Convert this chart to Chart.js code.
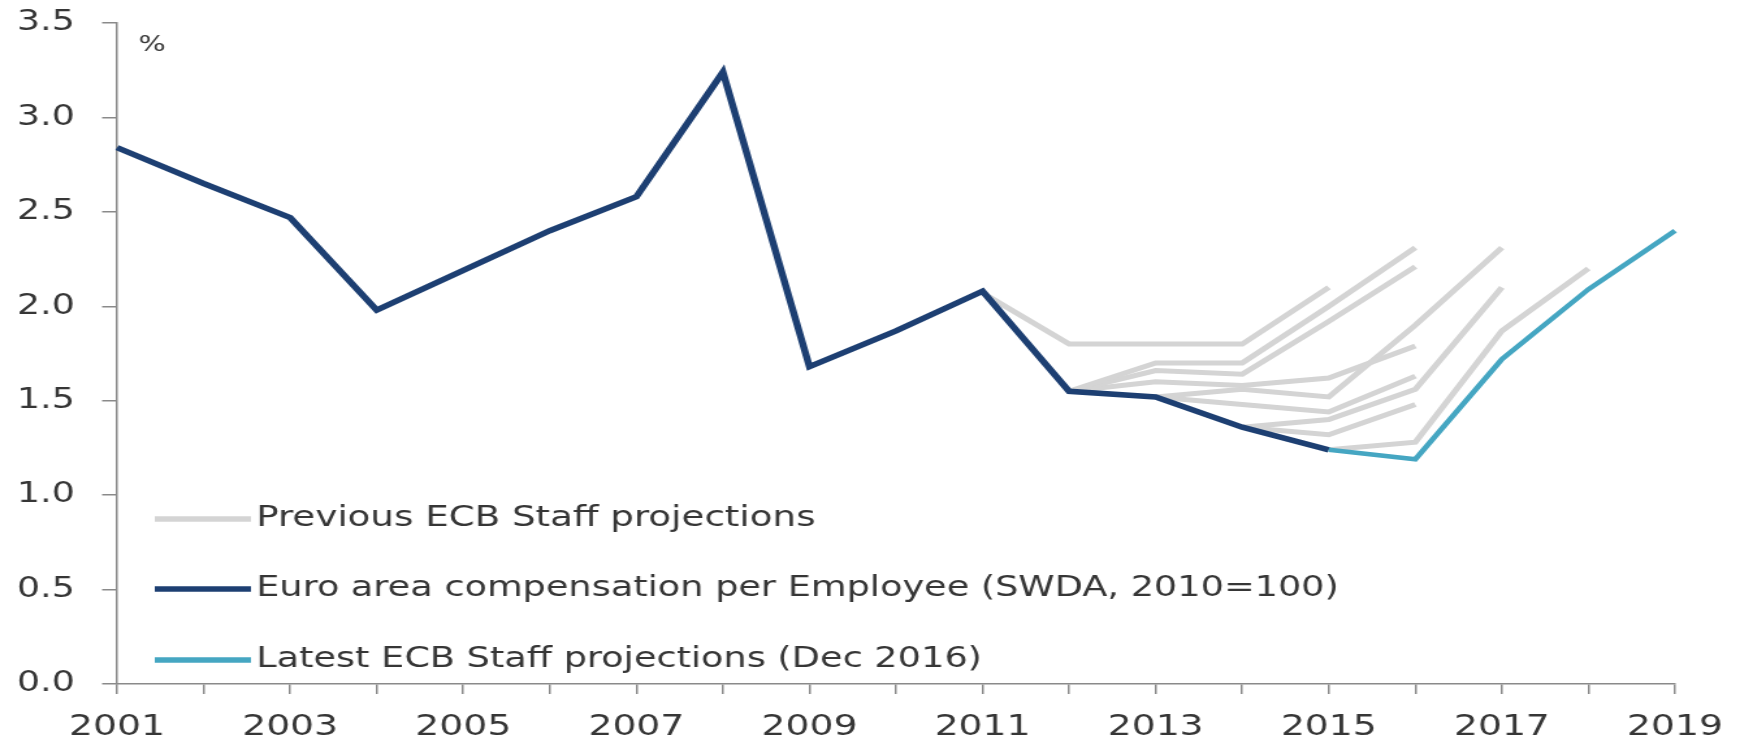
<!DOCTYPE html>
<html><head><meta charset="utf-8">
<script src="https://cdn.jsdelivr.net/npm/chart.js@4.4.1/dist/chart.umd.min.js"></script>
<style>
html,body{margin:0;padding:0;background:#fff;overflow:hidden;}
#wrap{width:1338px;height:742px;transform:scaleX(1.30045);transform-origin:0 0;}
</style></head><body>
<div id="wrap"><canvas id="c" width="1338" height="742"></canvas></div>
<script>
// ---- data ----
const years = ["2001","2002","2003","2004","2005","2006","2007","2008","2009","2010","2011","2012","2013","2014","2015","2016","2017","2018","2019"];
const yTickValues = [0, 0.5, 1, 1.5, 2, 2.5, 3, 3.5];
// Euro area compensation per employee, 2001-2015
const compensation = [2.84, 2.65, 2.47, 1.98, 2.19, 2.40, 2.58, 3.24, 1.68, 1.87, 2.08, 1.55, 1.52, 1.36, 1.24];
const compensationStart = "2001";
// Latest ECB Staff projections (Dec 2016), 2015-2019
const latest = [1.24, 1.19, 1.72, 2.09, 2.40];
const latestStart = "2015";
// Previous ECB Staff projections (each vintage: start year + values)
const prev1 = [2.07, 1.80, 1.80, 1.80, 2.10]; const prev1Start = "2011";
const prev2 = [1.55, 1.70, 1.70, 2.00, 2.31]; const prev2Start = "2012";
const prev3 = [1.55, 1.66, 1.64, 1.92, 2.21]; const prev3Start = "2012";
const prev4 = [1.55, 1.60, 1.58, 1.62, 1.79]; const prev4Start = "2012";
const prev5 = [1.52, 1.56, 1.52, 1.90, 2.31]; const prev5Start = "2013";
const prev6 = [1.52, 1.48, 1.44, 1.63];       const prev6Start = "2013";
const prev7 = [1.36, 1.40, 1.56, 2.10];       const prev7Start = "2014";
const prev8 = [1.36, 1.32, 1.48];             const prev8Start = "2014";
const prev9 = [1.24, 1.28, 1.87, 2.20];       const prev9Start = "2015";

const legendLabels = ["Previous ECB Staff projections", "Euro area compensation per Employee (SWDA, 2010=100)", "Latest ECB Staff projections (Dec 2016)"];
const unitLabel = "%";

// ---- build ----
function pad(start, vals){
  const out = years.map(() => null);
  const i0 = years.indexOf(start);
  vals.forEach((v,i)=>{ out[i0+i] = v; });
  return out;
}
const GRAY = "#d4d4d4", DARK = "#1d3f72", LIGHT = "#45a6c2", TXT = "#363636", AX = "#8a8a8a";
const prevs = [[prev1,prev1Start],[prev2,prev2Start],[prev3,prev3Start],[prev4,prev4Start],[prev5,prev5Start],[prev6,prev6Start],[prev7,prev7Start],[prev8,prev8Start],[prev9,prev9Start]];
const datasets = [];
datasets.push({label: legendLabels[2], data: pad(latestStart, latest), borderColor: LIGHT, borderWidth: 4.5, order: 0});
datasets.push({label: legendLabels[1], data: pad(compensationStart, compensation), borderColor: DARK, borderWidth: 5.5, order: 1});
prevs.forEach(([v,s],i)=> datasets.push({label: legendLabels[0], data: pad(s, v), borderColor: GRAY, borderWidth: 5, order: 2}));

const legendPlugin = {
  id: 'customLegend',
  afterDatasetsDraw(chart){
    const ctx = chart.ctx;
    ctx.save();
    const items = [[legendLabels[0], GRAY, 519],[legendLabels[1], DARK, 589],[legendLabels[2], LIGHT, 660]];
    ctx.textBaseline = 'middle';
    ctx.textAlign = 'left';
    items.forEach(([t,c,y],i)=>{
      ctx.strokeStyle = c; ctx.lineWidth = 5.5; ctx.lineCap = 'butt';
      ctx.beginPath(); ctx.moveTo(119, y); ctx.lineTo(193, y); ctx.stroke();
      ctx.fillStyle = TXT;
      ctx.font = (i === 0 ? '28.6px' : '28.2px') + ' "DejaVu Sans"';
      ctx.fillText(t, 197, y);
    });
    ctx.font = '22px "DejaVu Sans"';
    ctx.fillStyle = TXT;
    ctx.textAlign = 'center';
    ctx.fillText(unitLabel, 117, 45);
    ctx.restore();
  }
};

new Chart(document.getElementById('c'), {
  type: 'line',
  data: { labels: years, datasets },
  options: {
    responsive: false, animation: false, devicePixelRatio: 1,
    layout: { padding: { left: 0, right: 50, top: 23, bottom: 0 } },
    elements: { point: { radius: 0 }, line: { tension: 0, borderJoinStyle: 'miter', borderCapStyle: 'butt' } },
    spanGaps: false,
    plugins: { legend: { display: false }, tooltip: { enabled: false } },
    scales: {
      x: {
        type: 'category', offset: false,
        afterFit(s){ s.height = 58; s.paddingLeft = 0; s.paddingRight = 0; },
        grid: { drawOnChartArea: false, drawTicks: true, tickLength: 10, color: AX, lineWidth: 1.5, offset: false },
        border: { display: true, color: AX, width: 1.5 },
        ticks: { autoSkip: false, maxRotation: 0, padding: 16, color: TXT, font: { family: 'DejaVu Sans', size: 29 },
          callback(v, i){ return i % 2 === 0 ? years[i] : ''; } }
      },
      y: {
        min: 0, max: 3.5,
        afterFit(s){ s.width = 90; s.paddingTop = 0; s.paddingBottom = 0; },
        afterBuildTicks(s){ s.ticks = yTickValues.map(v => ({value: v})); },
        grid: { drawOnChartArea: false, drawTicks: true, tickLength: 11.5, color: AX, lineWidth: 1.5 },
        border: { display: true, color: AX, width: 1.5 },
        ticks: { padding: 21, color: TXT, font: { family: 'DejaVu Sans', size: 28 },
          callback(v){ return Number(v).toFixed(1); } }
      }
    }
  },
  plugins: [legendPlugin]
});
</script>
</body></html>
